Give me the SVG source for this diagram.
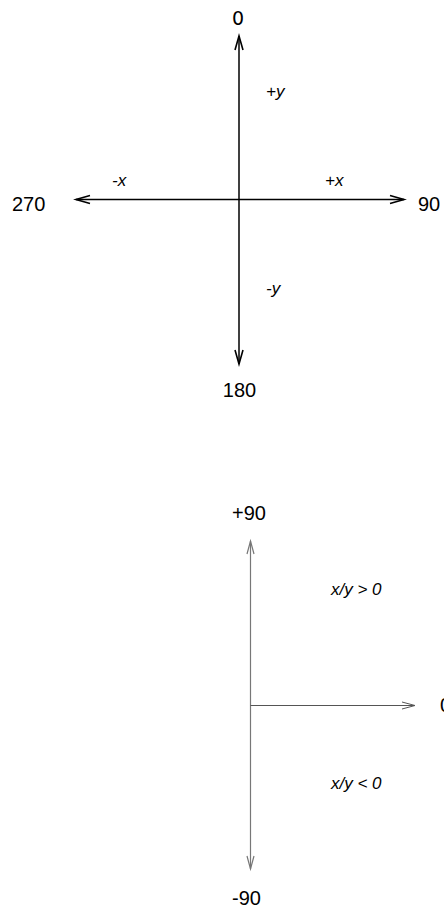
<svg xmlns="http://www.w3.org/2000/svg" width="444" height="909" viewBox="0 0 444 909">
<style>
.lbl{font-family:"Liberation Sans",Arial,sans-serif;font-size:20px;fill:#000}
.it{font-family:"Liberation Sans",Arial,sans-serif;font-size:17px;font-style:italic;fill:#000}
.it2{font-family:"Liberation Sans",Arial,sans-serif;font-size:17px;font-style:italic;fill:#000}
.ax{stroke:#000;stroke-width:1.5;fill:none}
.ah{stroke:#000;stroke-width:1.6;fill:none}
.gx{stroke:#777;stroke-width:1.2;fill:none}
.gh{stroke:#555;stroke-width:1;fill:none}
</style>
<rect width="444" height="909" fill="#fff"/>
<g id="connectors">
  <line class="ax" x1="239" y1="36" x2="239" y2="364"/>
  <line class="ax" x1="76" y1="199.5" x2="404" y2="199.5"/>
  <polyline class="ah" points="235,50 239,36 243,50"/>
  <polyline class="ah" points="235,350 239,364 243,350"/>
  <polyline class="ah" points="90,195.5 76,199.5 90,203.5"/>
  <polyline class="ah" points="390,195.5 404,199.5 390,203.5"/>
  <line class="gx" x1="250.5" y1="541" x2="250.5" y2="869"/>
  <line class="gh" x1="250.5" y1="705.5" x2="414" y2="705.5"/>
  <polyline class="gx" points="247,554 250.5,541 254,554"/>
  <polyline class="gx" points="247,856 250.5,869 254,856"/>
  <polyline class="gh" points="402,702 415,705.5 402,709"/>
</g>
<g id="n0"><text x="238" y="25" text-anchor="middle" style="font-family:'DejaVu Sans',sans-serif;font-size:19px">0</text></g>
<g id="n180"><text class="lbl" x="239.5" y="397" text-anchor="middle">180</text></g>
<g id="n270"><text class="lbl" x="12" y="211">270</text></g>
<g id="n90"><text class="lbl" x="418" y="211">90</text></g>
<g id="npy"><text class="it" x="266" y="97">+y</text></g>
<g id="nmy"><text class="it" x="266" y="294">-y</text></g>
<g id="nmx"><text class="it" x="112" y="186">-x</text></g>
<g id="npx"><text class="it" x="325" y="186">+x</text></g>
<g id="np90"><text class="lbl" x="232" y="520">+90</text></g>
<g id="nm90"><text class="lbl" x="232" y="905">-90</text></g>
<g id="nz"><text class="lbl" x="440" y="712">0</text></g>
<g id="ngt"><text class="it2" x="331" y="595">x/y &gt; 0</text></g>
<g id="nlt"><text class="it2" x="331" y="789">x/y &lt; 0</text></g>
</svg>
